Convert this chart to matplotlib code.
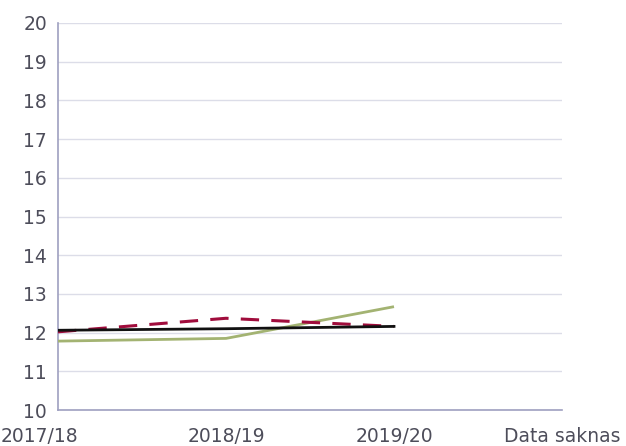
import matplotlib
matplotlib.use("Agg")
import matplotlib.pyplot as plt
from matplotlib.transforms import ScaledTranslation

categories = ["2017/18", "2018/19", "2019/20", "Data saknas"]
series_red = [12.02, 12.37, 12.16]
series_black = [12.06, 12.10, 12.16]
series_green = [11.78, 11.85, 12.67]
yticks = list(range(10, 21))

plt.rcParams['font.family'] = ['DejaVu Sans']
fig = plt.figure(figsize=(6.26, 4.46), dpi=100)
ax = fig.add_axes([58/626, 36/446, (562-58)/626, (410-23)/446])

x = list(range(len(series_red)))
ax.plot(x, series_green, color="#a3b372", lw=2.0, solid_capstyle='butt', zorder=3)
ax.plot(x, series_red, color="#a00c3c", lw=2.2, dashes=(6, 4), zorder=4)
ax.plot(x, series_black, color="#111111", lw=2.0, zorder=5)

ax.set_xlim(0, 3)
ax.set_ylim(10, 20)
ax.set_yticks(yticks)
ax.set_yticklabels([str(v) for v in yticks])
ax.set_xticks(range(len(categories)))
ax.set_xticklabels(categories)

ax.grid(axis='y', color="#dcdde8", lw=1)
ax.set_axisbelow(True)
for s in ['top', 'right']:
    ax.spines[s].set_visible(False)
ax.spines['left'].set_color("#9ea0c0")
ax.spines['bottom'].set_color("#9ea0c0")
ax.spines['left'].set_linewidth(1.2)
ax.spines['bottom'].set_linewidth(1.2)
ax.tick_params(axis='both', length=0, labelsize=13.5, colors="#4d4d5a")
ax.tick_params(axis='y', pad=8)
ax.tick_params(axis='x', pad=12)

lbl0 = ax.get_xticklabels()[0]
lbl0.set_transform(lbl0.get_transform() + ScaledTranslation(-19/100, 0, fig.dpi_scale_trans))

fig.savefig("out.png", dpi=100)
